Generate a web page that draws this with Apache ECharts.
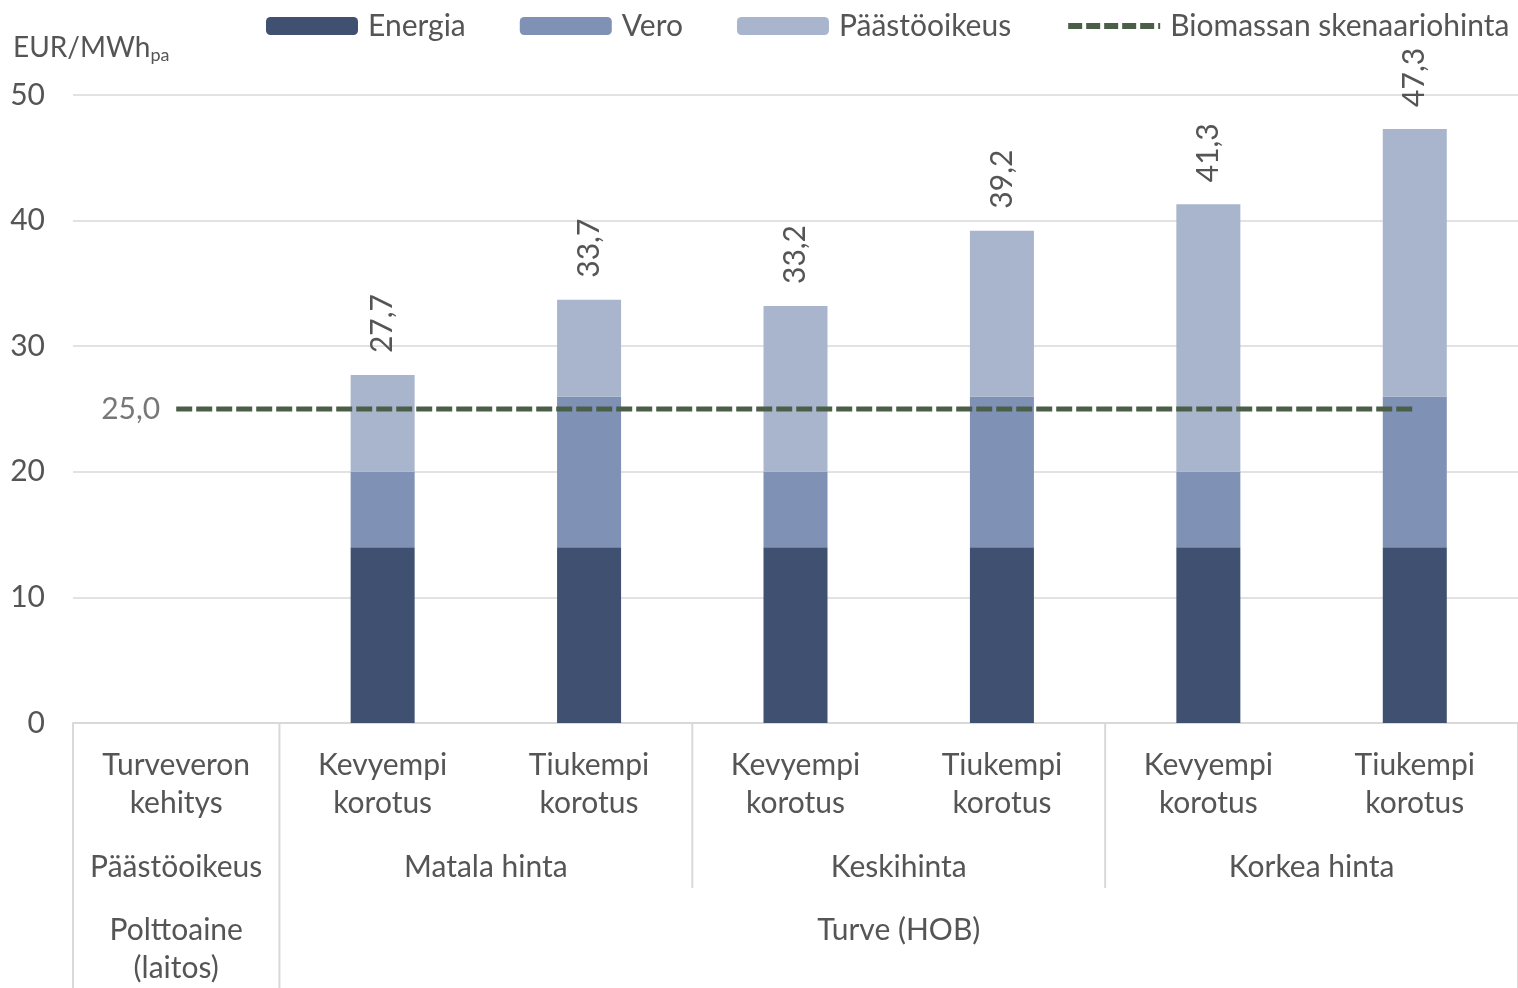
<!DOCTYPE html>
<html><head><meta charset="utf-8">
<script src="https://cdn.jsdelivr.net/npm/echarts@6/dist/echarts.min.js"></script>
<style>html,body{margin:0;padding:0;background:#fff}#c{width:1518px;height:988px}</style>
</head><body><div id="c"></div>
<script>
// ---- data ----
const categories = ['Turveveron\nkehitys','Kevyempi\nkorotus','Tiukempi\nkorotus','Kevyempi\nkorotus','Tiukempi\nkorotus','Kevyempi\nkorotus','Tiukempi\nkorotus'];
const energia = [null,14,14,14,14,14,14];
const vero = [null,6,12,6,12,6,12];
const paastooikeus = [null,7.7,7.7,13.2,13.2,21.3,21.3];
const biomassa = [25,25,25,25,25,25,25];
const seriesNames = ['Energia','Vero','Päästöoikeus','Biomassan skenaariohinta'];
const row2Labels = [['Päästöoikeus',0,1],['Matala hinta',1,3],['Keskihinta',3,5],['Korkea hinta',5,7]];
const row3Labels = [['Polttoaine\n(laitos)',0,1],['Turve (HOB)',1,7]];
const fullLines = [0,1,7];
const shortLines = [3,5];

const FONT = 'Lato';
const TXT = '#555555';
const FS = 30;
const fmt = v => v.toFixed(1).replace('.', ',');
const LINEC = '#4b5f48';

const chart = echarts.init(document.getElementById('c'));
const option = {
  animation:false,
  textStyle:{fontFamily:FONT},
  title:{
    left:8, top:27,
    text:'{a|EUR/MWh}{b|pa}',
    textStyle:{rich:{
      a:{fontFamily:FONT,fontSize:28,color:TXT,fontWeight:'normal'},
      b:{fontFamily:FONT,fontSize:18,color:TXT,fontWeight:'normal',padding:[14,0,0,0]}
    }}
  },
  legend:{
    left:261, top:6, width:1257, itemWidth:92, itemHeight:18, itemGap:54,
    textStyle:{fontFamily:FONT,fontSize:FS,color:TXT,padding:[0,0,0,5]},
    data:[seriesNames[0],seriesNames[1],seriesNames[2],
      {name:seriesNames[3],itemStyle:{opacity:0},lineStyle:{width:6,type:[14,4],color:LINEC}}]
  },
  grid:{left:73,right:0,top:95,bottom:265,containLabel:false},
  xAxis:{
    type:'category', data:categories,
    axisLine:{lineStyle:{color:'#d9d9d9',width:2}},
    axisTick:{show:false},
    axisLabel:{fontFamily:FONT,fontSize:FS,color:TXT,lineHeight:38,margin:23,interval:0}
  },
  yAxis:{
    type:'value', min:0, max:50, interval:10,
    axisLine:{show:false}, axisTick:{show:false},
    splitLine:{lineStyle:{color:'#d9d9d9',width:1.5}},
    axisLabel:{fontFamily:FONT,fontSize:FS,color:TXT,margin:28}
  },
  series:[
    {name:seriesNames[0],type:'bar',stack:'s',barWidth:64,data:energia,itemStyle:{color:'#3f5070'}},
    {name:seriesNames[1],type:'bar',stack:'s',barWidth:64,data:vero,itemStyle:{color:'#7f91b5'}},
    {name:seriesNames[2],type:'bar',stack:'s',barWidth:64,data:paastooikeus,itemStyle:{color:'#a9b5cd'},
      label:{show:true,position:'top',rotate:90,align:'left',verticalAlign:'middle',distance:22,
        fontFamily:FONT,fontSize:FS,color:TXT,
        formatter:p=>{const i=p.dataIndex;return fmt(energia[i]+vero[i]+paastooikeus[i]);}}},
    {name:seriesNames[3],type:'line',data:biomassa,symbol:'none',z:5,
      lineStyle:{color:LINEC,width:5,type:[16,4]},itemStyle:{color:LINEC}},
    {name:'biomassLabel',type:'scatter',data:biomassa,symbolSize:0.01,silent:true,z:6,
      itemStyle:{color:'rgba(0,0,0,0)'},
      label:{show:true,position:'left',distance:16,fontFamily:FONT,fontSize:FS,color:TXT,
        formatter:p=>p.dataIndex===0?fmt(p.value):''}}
  ]
};
chart.setOption(option);

// ---- multi-level category table below the axis ----
const c0 = chart.convertToPixel({xAxisIndex:0},0);
const c1 = chart.convertToPixel({xAxisIndex:0},1);
const band = c1 - c0;
const bx = k => c0 + (k - 0.5) * band;
const y0 = chart.convertToPixel({yAxisIndex:0},0);
const g = [];
fullLines.forEach(k=>g.push({type:'line',shape:{x1:bx(k),y1:y0,x2:bx(k),y2:988},style:{stroke:'#d9d9d9',lineWidth:2}}));
shortLines.forEach(k=>g.push({type:'line',shape:{x1:bx(k),y1:y0,x2:bx(k),y2:888},style:{stroke:'#d9d9d9',lineWidth:2}}));
row2Labels.forEach(([t,a,b])=>g.push({type:'text',x:(bx(a)+bx(b))/2,y:867,style:{text:t,font:FS+'px '+FONT,fill:TXT,align:'center',verticalAlign:'middle'}}));
row3Labels.forEach(([t,a,b])=>g.push({type:'text',x:(bx(a)+bx(b))/2,y:930-19,style:{text:t,font:FS+'px '+FONT,fill:TXT,align:'center',verticalAlign:'top',lineHeight:38}}));
chart.setOption({graphic:g});
</script>
</body></html>
